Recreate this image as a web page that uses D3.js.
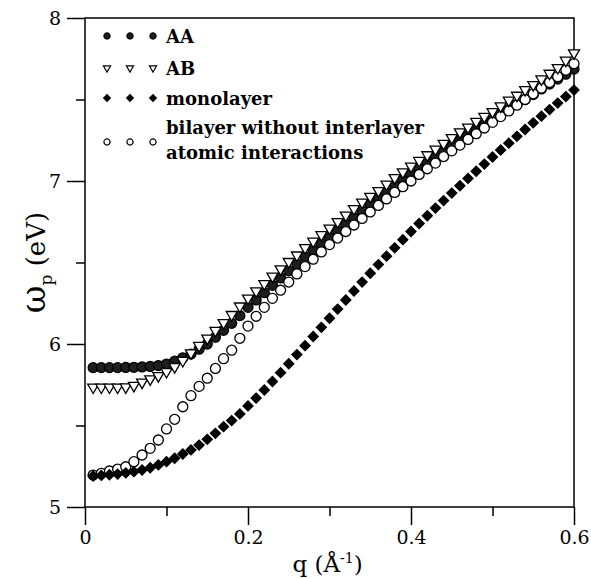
<!DOCTYPE html>
<html>
<head>
<meta charset="utf-8">
<script src="https://cdn.jsdelivr.net/npm/d3@7"></script>
<style>
  body { margin: 0; background: #fff; }
  svg { display: block; }
</style>
</head>
<body>
<div id="chart"></div>
<script>
// q in 1/Angstrom
const qValues = [0.01, 0.02, 0.03, 0.04, 0.05, 0.06, 0.07, 0.08, 0.09, 0.10,
                 0.11, 0.12, 0.13, 0.14, 0.15, 0.16, 0.17, 0.18, 0.19, 0.20,
                 0.21, 0.22, 0.23, 0.24, 0.25, 0.26, 0.27, 0.28, 0.29, 0.30,
                 0.31, 0.32, 0.33, 0.34, 0.35, 0.36, 0.37, 0.38, 0.39, 0.40,
                 0.41, 0.42, 0.43, 0.44, 0.45, 0.46, 0.47, 0.48, 0.49, 0.50,
                 0.51, 0.52, 0.53, 0.54, 0.55, 0.56, 0.57, 0.58, 0.59, 0.60];

const aaValues = [5.855, 5.855, 5.855, 5.855, 5.856, 5.857, 5.859, 5.862, 5.868, 5.877,
                  5.895, 5.915, 5.938, 5.968, 6.000, 6.042, 6.084, 6.127, 6.174, 6.225,
                  6.270, 6.315, 6.360, 6.405, 6.450, 6.490, 6.535, 6.575, 6.615, 6.655,
                  6.695, 6.735, 6.775, 6.815, 6.855, 6.890, 6.930, 6.970, 7.005, 7.040,
                  7.075, 7.110, 7.145, 7.180, 7.215, 7.250, 7.280, 7.315, 7.345, 7.375,
                  7.410, 7.440, 7.470, 7.500, 7.530, 7.565, 7.595, 7.625, 7.655, 7.687];

const abValues = [5.735, 5.735, 5.735, 5.735, 5.736, 5.745, 5.765, 5.785, 5.805, 5.830,
                  5.860, 5.898, 5.945, 5.990, 6.035, 6.083, 6.130, 6.180, 6.232, 6.280,
                  6.325, 6.370, 6.415, 6.460, 6.505, 6.545, 6.590, 6.630, 6.670, 6.710,
                  6.750, 6.790, 6.830, 6.870, 6.905, 6.940, 6.980, 7.020, 7.055, 7.090,
                  7.125, 7.160, 7.195, 7.230, 7.265, 7.300, 7.330, 7.365, 7.395, 7.425,
                  7.460, 7.495, 7.525, 7.560, 7.590, 7.625, 7.660, 7.695, 7.740, 7.785];

const monoValues = [5.190, 5.194, 5.198, 5.202, 5.209, 5.217, 5.227, 5.241, 5.258, 5.278,
                    5.299, 5.325, 5.350, 5.380, 5.415, 5.452, 5.493, 5.530, 5.571, 5.620,
                    5.668, 5.718, 5.770, 5.824, 5.879, 5.935, 5.990, 6.046, 6.102, 6.158,
                    6.214, 6.270, 6.325, 6.380, 6.434, 6.487, 6.539, 6.590, 6.640, 6.690,
                    6.739, 6.787, 6.834, 6.880, 6.926, 6.971, 7.016, 7.060, 7.104, 7.147,
                    7.190, 7.232, 7.274, 7.316, 7.357, 7.398, 7.438, 7.478, 7.518, 7.558];

const bilayerValues = [5.196, 5.207, 5.221, 5.233, 5.247, 5.278, 5.319, 5.360, 5.411, 5.479,
                       5.538, 5.615, 5.683, 5.740, 5.790, 5.850, 5.910, 5.962, 6.035, 6.110,
                       6.170, 6.225, 6.280, 6.330, 6.380, 6.430, 6.475, 6.520, 6.565, 6.610,
                       6.650, 6.690, 6.730, 6.770, 6.810, 6.850, 6.890, 6.930, 6.965, 7.000,
                       7.040, 7.075, 7.110, 7.150, 7.185, 7.220, 7.255, 7.290, 7.325, 7.360,
                       7.395, 7.430, 7.465, 7.500, 7.535, 7.570, 7.605, 7.640, 7.680, 7.720];

const xMajorTicks = [0, 0.2, 0.4, 0.6];
const xMinorTicks = [0.1, 0.3, 0.5];
const yMajorTicks = [5, 6, 7, 8];
const yMinorTicks = [5.5, 6.5, 7.5];

const legendLabels = [["AA"], ["AB"], ["monolayer"], ["bilayer without interlayer", "atomic interactions"]];

const W = 591, H = 579;
const margin = {left: 85, right: 17, top: 18, bottom: 72};
const width = W - margin.left - margin.right;
const height = H - margin.top - margin.bottom;

const svg = d3.select("#chart").append("svg")
    .attr("width", W)
    .attr("height", H);

const g = svg.append("g")
    .attr("transform", "translate(" + margin.left + "," + margin.top + ")");

const x = d3.scaleLinear().domain([0, 0.6]).range([0, width]);
const y = d3.scaleLinear().domain([5, 8]).range([height, 0]);

const serif = "'DejaVu Serif', serif";

// frame
g.append("rect")
    .attr("width", width)
    .attr("height", height)
    .attr("fill", "none")
    .attr("stroke", "#000")
    .attr("stroke-width", 1.5);

// axes
g.append("g")
    .attr("transform", "translate(0," + height + ")")
    .call(d3.axisBottom(x).tickValues(xMajorTicks).tickSize(18).tickPadding(6)
        .tickFormat(d => d === 0 ? "0" : d3.format(".1f")(d)));
g.append("g")
    .attr("transform", "translate(0," + height + ")")
    .call(d3.axisBottom(x).tickValues(xMinorTicks).tickSize(9).tickFormat(""));

g.append("g")
    .call(d3.axisLeft(y).tickValues(yMajorTicks).tickSize(18).tickPadding(6).tickFormat(d3.format("d")));
g.append("g")
    .call(d3.axisLeft(y).tickValues(yMinorTicks).tickSize(9).tickFormat(""));

g.selectAll(".domain").remove();
g.selectAll(".tick line").attr("stroke", "#000").attr("stroke-width", 1.5);
g.selectAll(".tick text")
    .attr("fill", "#000")
    .style("font-family", serif)
    .style("font-size", "19px");

// axis titles
svg.append("text")
    .attr("x", margin.left + width / 2 - 2)
    .attr("y", H - 7)
    .attr("text-anchor", "middle")
    .style("font-family", serif)
    .style("font-size", "23px")
    .html("q (Å<tspan dy='-9' font-size='14px'>-1</tspan><tspan dy='9'>)</tspan>");

svg.append("text")
    .attr("transform", "translate(45," + (margin.top + height / 2) + ") rotate(-90)")
    .attr("text-anchor", "middle")
    .style("font-family", serif)
    .style("font-size", "26px")
    .html("<tspan font-size='34px'>ω</tspan><tspan dy='7' font-size='17px'>p</tspan><tspan dy='-7'> (eV)</tspan>");

// markers
const sym = {
    circle: d3.symbol().type(d3.symbolCircle),
    tri: d3.symbol().type(d3.symbolTriangle),
    diamond: d3.symbol().type(d3.symbolSquare)
};

const series = [
    {values: aaValues, shape: "circle", size: 78, fill: "#1e1e1e", rot: 0, lsize: 30},
    {values: bilayerValues, shape: "circle", size: 78, fill: "#fff", rot: 0, lsize: 30},
    {values: abValues, shape: "tri", size: 52, fill: "#fff", rot: 180, lsize: 22},
    {values: monoValues, shape: "diamond", size: 50, fill: "#000", rot: 45, lsize: 22}
];

series.forEach(s => {
    const pts = qValues.map((q, i) => [q, s.values[i]]);
    g.append("g").selectAll("path")
        .data(pts)
        .join("path")
        .attr("transform", d => "translate(" + x(d[0]) + "," + y(d[1]) + ") rotate(" + s.rot + ")")
        .attr("d", sym[s.shape].size(s.size)())
        .attr("fill", s.fill)
        .attr("stroke", "#000")
        .attr("stroke-width", 1.3);
});

// legend
const legendOrder = [series[0], series[2], series[3], series[1]];
const legendY = [36, 68, 98, 142];
const legendX = [22, 45, 68];

legendOrder.forEach((s, i) => {
    const row = g.append("g").attr("transform", "translate(0," + (legendY[i] - margin.top) + ")");
    legendX.forEach(lx => {
        row.append("path")
            .attr("transform", "translate(" + lx + ",0) rotate(" + s.rot + ")")
            .attr("d", sym[s.shape].size(s.lsize)())
            .attr("fill", s.fill)
            .attr("stroke", "#000")
            .attr("stroke-width", 1.2);
    });
    const lines = legendLabels[i];
    const t = row.append("text")
        .attr("x", 81)
        .attr("y", lines.length === 1 ? 7 : -8)
        .style("font-family", serif)
        .style("font-weight", "bold")
        .style("font-size", "18px");
    lines.forEach((ln, j) => {
        t.append("tspan").attr("x", 81).attr("dy", j === 0 ? 0 : 25).text(ln);
    });
});
</script>
</body>
</html>
